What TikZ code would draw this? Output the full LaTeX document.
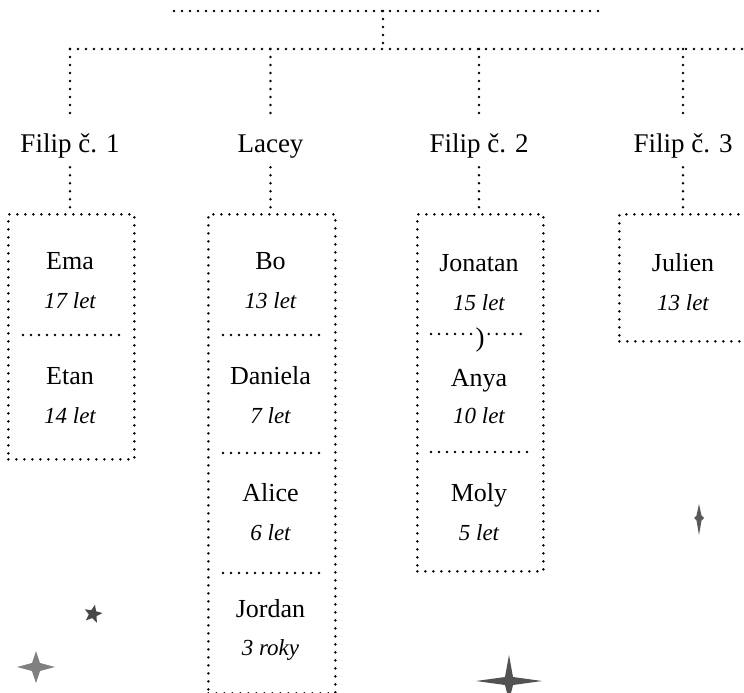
\documentclass[tikz,border=0pt]{standalone}
\usepackage{fontspec}
\setmainfont{Liberation Serif}
\usetikzlibrary{shapes.geometric}
\begin{document}
\begin{tikzpicture}[x=1pt,y=-1pt,
  dotline/.style={line width=2.8pt, line cap=round, dash pattern=on 0pt off 8pt},
  boxframe/.style={draw, line width=2.8pt, line cap=round, dash pattern=on 0pt off 8pt, inner sep=0pt, anchor=north west},
  parentlabel/.style={font=\fontsize{27}{30}\selectfont, inner sep=0pt, text height=37pt, text depth=15pt, anchor=base},
  kidname/.style={font=\fontsize{26}{28}\selectfont, inner sep=0pt, anchor=base},
  kidage/.style={font=\itshape\fontsize{23}{26}\selectfont, inner sep=0pt, anchor=base},
  sparkfill/.style={fill=black!65, draw=none}]
\useasboundingbox (0,0) rectangle (744,693);

% top structure
\coordinate (tl) at (174,11);
\coordinate (tr) at (600,11);
\coordinate (tm) at (383,11);
\coordinate (hm) at (383,49);
\coordinate (hl) at (70,49);
\coordinate (hr) at (752,49);
\coordinate (j1) at (70,49);
\coordinate (j2) at (270.5,49);
\coordinate (j3) at (479,49);
\coordinate (j4) at (683,49);
\draw[dotline] (tl) -- (tr);
\draw[dotline] (tm) -- (hm);
\draw[dotline] (hl) -- (hr);

% parent labels
\node[parentlabel] (f1) at (70,152) {Filip č. 1};
\node[parentlabel] (la) at (270.5,152) {Lacey};
\node[parentlabel] (f2) at (479,152) {Filip č. 2};
\node[parentlabel] (f3) at (683,152) {Filip č. 3};

\foreach \j/\p in {j1/f1,j2/la,j3/f2,j4/f3}
  \draw[dotline] (\j) -- (\p.north);

% boxes
\node[boxframe, minimum width=126pt, minimum height=245pt] (b1) at (7,213) {};
\node[boxframe, minimum width=127pt, minimum height=479pt] (b2) at (207,213) {};
\node[boxframe, minimum width=126pt, minimum height=357pt] (b3) at (416,213) {};
\node[boxframe, minimum width=160pt, minimum height=127pt] (b4) at (618,213) {};

\draw[dotline, shorten >=5pt] (f1.south) -- (b1.north -| f1.south);
\draw[dotline, shorten >=5pt] (la.south) -- (b2.north -| la.south);
\draw[dotline, shorten >=5pt] (f2.south) -- (b3.north -| f2.south);
\draw[dotline, shorten >=5pt] (f3.south) -- (b4.north -| f3.south);

% box 1
\node[kidname] (ema) at (70,269) {Ema};
\node[kidage] (emaa) at (70,308) {17 let};
\coordinate (s1a) at (23,335); \coordinate (s1b) at (120,335);
\draw[dotline] (s1a) -- (s1b);
\node[kidname] (etan) at (70,384) {Etan};
\node[kidage] (etana) at (70,423) {14 let};

% box 2
\node[kidname] (bo) at (270.5,269) {Bo};
\node[kidage] (boa) at (270.5,308) {13 let};
\coordinate (s2a) at (223,335); \coordinate (s2b) at (320,335);
\draw[dotline] (s2a) -- (s2b);
\node[kidname] (dan) at (270.5,384) {Daniela};
\node[kidage] (dana) at (270.5,423) {7 let};
\coordinate (s3a) at (223,453); \coordinate (s3b) at (320,453);
\draw[dotline] (s3a) -- (s3b);
\node[kidname] (ali) at (270.5,501) {Alice};
\node[kidage] (alia) at (270.5,540) {6 let};
\coordinate (s4a) at (223,573); \coordinate (s4b) at (320,573);
\draw[dotline] (s4a) -- (s4b);
\node[kidname] (jor) at (270.5,617) {Jordan};
\node[kidage] (jora) at (270.5,655) {3 roky};

% box 3
\node[kidname] (jon) at (479,271) {Jonatan};
\node[kidage] (jona) at (479,310) {15 let};
\node[font=\fontsize{27}{30}\selectfont, inner sep=0pt, inner xsep=4pt] (par) at (480,340) {)};
\coordinate (s5a) at (431,334); \coordinate (s5b) at (528,334);
\draw[dotline] (s5a) -- (s5a -| par.west);
\draw[dotline] (s5b -| par.east) -- (s5b);
\node[kidname] (anya) at (479,386) {Anya};
\node[kidage] (anyaa) at (479,423) {10 let};
\coordinate (s6a) at (431,452); \coordinate (s6b) at (528,452);
\draw[dotline] (s6a) -- (s6b);
\node[kidname] (moly) at (479,501) {Moly};
\node[kidage] (molya) at (479,540) {5 let};

% box 4
\node[kidname] (jul) at (683,271) {Julien};
\node[kidage] (jula) at (683,310) {13 let};

% sparkles
\newcommand\sparkle[6]{% x,y,up,down,left/right,waist
  \fill[sparkfill] (#1,#2-#3) -- (#1+#6,#2-#6) -- (#1+#5,#2) -- (#1+#6,#2+#6) -- (#1,#2+#4) -- (#1-#6,#2+#6) -- (#1-#5,#2) -- (#1-#6,#2-#6) -- cycle;}
\node[star, star points=5, star point ratio=2.3, fill=black!72, draw=none, minimum size=19pt, inner sep=0pt, rotate=-12] (smallstar) at (93,614) {};
\sparkle{699}{518}{14}{17}{5}{2.5}
\begin{scope}[sparkfill/.style={fill=black!50}]
\sparkle{36}{667}{16}{16}{19}{4}
\end{scope}
\begin{scope}[sparkfill/.style={fill=black!68}]
\sparkle{509}{681}{26}{20}{33}{4}
\end{scope}
\end{tikzpicture}
\end{document}
